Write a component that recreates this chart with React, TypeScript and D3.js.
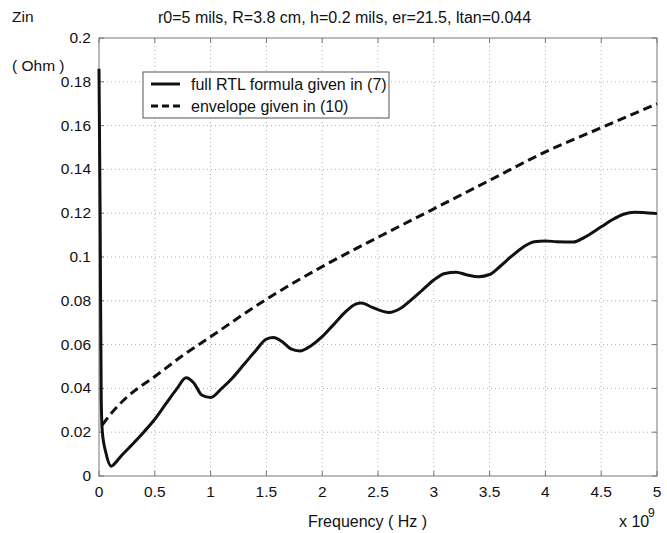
import React from "react";
import * as d3 from "d3";

const title = "r0=5 mils, R=3.8 cm, h=0.2 mils, er=21.5, ltan=0.044";
const xTicks = [0, 0.5, 1, 1.5, 2, 2.5, 3, 3.5, 4, 4.5, 5];
const yTicks = [0, 0.02, 0.04, 0.06, 0.08, 0.1, 0.12, 0.14, 0.16, 0.18, 0.2];
const legendLabels = ["full RTL formula given in (7)", "envelope given in (10)"];

// frequency in units of 1e9 Hz
const fullF = [0, 0.01, 0.02, 0.03, 0.06, 0.11, 0.16, 0.2, 0.3, 0.4, 0.5, 0.6, 0.7, 0.78, 0.85, 0.92, 1.0, 1.1, 1.2, 1.3, 1.4, 1.5, 1.56, 1.65, 1.72, 1.8, 1.9, 2.0, 2.1, 2.2, 2.3, 2.35, 2.45, 2.6, 2.7, 2.8, 2.9, 3.0, 3.1, 3.2, 3.3, 3.4, 3.5, 3.6, 3.7, 3.8, 3.9, 4.0, 4.1, 4.25, 4.35, 4.5, 4.6, 4.7, 4.8, 4.9, 5.0];
const fullZ = [0.186, 0.12, 0.035, 0.02, 0.011, 0.0045, 0.0068, 0.0092, 0.0145, 0.02, 0.0259, 0.033, 0.04, 0.0449, 0.0425, 0.037, 0.0358, 0.04, 0.045, 0.051, 0.057, 0.0625, 0.0632, 0.061, 0.058, 0.0571, 0.0595, 0.0636, 0.069, 0.0745, 0.0785, 0.079, 0.077, 0.0747, 0.0765, 0.0805, 0.085, 0.0895, 0.0925, 0.093, 0.0918, 0.091, 0.092, 0.096, 0.1005, 0.1045, 0.107, 0.1073, 0.107, 0.1068, 0.109, 0.1138, 0.117, 0.1195, 0.1204, 0.1202, 0.1198];

const envF = [0.03, 0.1, 0.25, 0.5, 0.75, 1.0, 1.5, 2.0, 2.5, 3.0, 3.5, 4.0, 4.5, 5.0];
const envZ = [0.0233, 0.028, 0.036, 0.0454, 0.055, 0.0636, 0.0807, 0.0956, 0.109, 0.122, 0.135, 0.148, 0.159, 0.170];

const W = 667, H = 533;
const L = 99, R = 657, T = 38, B = 476;
const font = "Arial, 'Liberation Sans', sans-serif";

export default function App() {
  const x = d3.scaleLinear().domain([0, 5]).range([L, R]);
  const y = d3.scaleLinear().domain([0, 0.2]).range([B, T]);
  const line = d3.line<[number, number]>().x(d => x(d[0])).y(d => y(d[1])).curve(d3.curveMonotoneX);
  const fullPts = fullF.map((f, i) => [f, fullZ[i]] as [number, number]);
  const envPts = envF.map((f, i) => [f, envZ[i]] as [number, number]);

  return (
    <svg width={W} height={H} style={{ position: "absolute", left: 0, top: 0, background: "#fff" }} fontFamily={font}>
      <rect x={0} y={0} width={W} height={H} fill="#fff" />
      {/* grid */}
      {xTicks.slice(1, -1).map(t => (
        <line key={"gx" + t} x1={x(t)} x2={x(t)} y1={T} y2={B} stroke="#999" strokeWidth={0.8} strokeDasharray="1,3" />
      ))}
      {yTicks.slice(1, -1).map(t => (
        <line key={"gy" + t} x1={L} x2={R} y1={y(t)} y2={y(t)} stroke="#999" strokeWidth={0.8} strokeDasharray="1,3" />
      ))}
      {/* axes box */}
      <rect x={L} y={T} width={R - L} height={B - T} fill="none" stroke="#777" strokeWidth={1} />
      {xTicks.map(t => (
        <g key={"tx" + t}>
          <line x1={x(t)} x2={x(t)} y1={B} y2={B - 5} stroke="#777" />
          <line x1={x(t)} x2={x(t)} y1={T} y2={T + 5} stroke="#777" />
          <text x={x(t)} y={497} fontSize={15.5} textAnchor="middle" fill="#111">{String(t)}</text>
        </g>
      ))}
      {yTicks.map(t => (
        <g key={"ty" + t}>
          <line x1={L} x2={L + 5} y1={y(t)} y2={y(t)} stroke="#777" />
          <line x1={R} x2={R - 5} y1={y(t)} y2={y(t)} stroke="#777" />
          <text x={91} y={y(t) + 5} fontSize={15.5} textAnchor="end" fill="#111">{String(t)}</text>
        </g>
      ))}
      {/* data */}
      <path d={line(envPts) || ""} fill="none" stroke="#111" strokeWidth={3} strokeDasharray="9,5" />
      <path d={line(fullPts) || ""} fill="none" stroke="#111" strokeWidth={3} strokeLinejoin="round" />
      {/* legend */}
      <rect x={143} y={72} width={246} height={46} fill="#fff" stroke="#555" strokeWidth={1} />
      <line x1={151} x2={180} y1={84} y2={84} stroke="#111" strokeWidth={3} />
      <line x1={151} x2={180} y1={106} y2={106} stroke="#111" strokeWidth={3} strokeDasharray="7,4" />
      <text x={191} y={90} fontSize={16} fill="#111">{legendLabels[0]}</text>
      <text x={191} y={112} fontSize={16} fill="#111">{legendLabels[1]}</text>
      {/* labels */}
      <text x={158} y={23} fontSize={16} fill="#111">{title}</text>
      <text x={12} y={22} fontSize={15.5} fill="#111">Zin</text>
      <text x={12} y={71} fontSize={15.5} fill="#111">( Ohm )</text>
      <text x={308} y={527} fontSize={16} fill="#111">Frequency ( Hz )</text>
      <text x={619} y={527} fontSize={16} fill="#111">x 10</text>
      <text x={648} y={517} fontSize={12} fill="#111">9</text>
    </svg>
  );
}
